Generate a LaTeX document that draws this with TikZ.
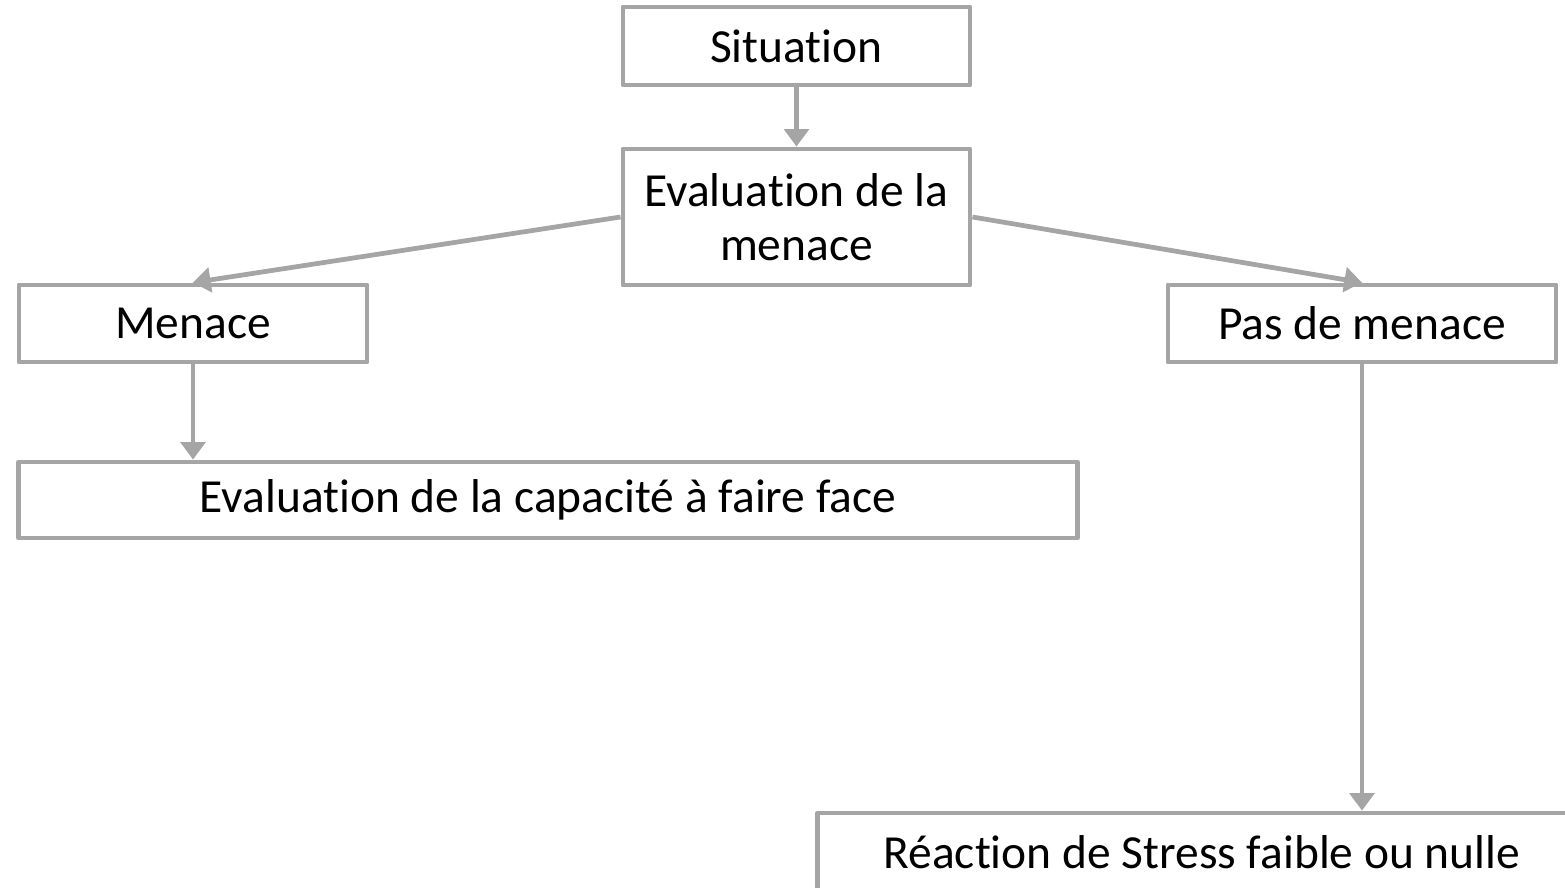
\documentclass[tikz,border=0pt]{standalone}
\usepackage{fontspec}
\setmainfont{Carlito}[Ligatures=NoCommon]
\usepackage{xcolor}
\usepackage{tikz}
\usetikzlibrary{arrows.meta}
\usetikzlibrary{calc}

\definecolor{boxgray}{HTML}{A5A5A5}

\begin{document}
\begin{tikzpicture}[x=0.01cm, y=-0.01cm,
  box/.style={draw=boxgray, line width=1.35pt, fill=white, align=center,
              inner sep=0pt, line join=round, font=\fontsize{13.5}{15.5}\selectfont},
  arr/.style={draw=boxgray, line width=1.35pt, -{Triangle[width=7pt,length=5pt]}}]

 \useasboundingbox (0,0) rectangle (1565,888);

 %top
 \node[box, minimum width=3.47cm, minimum height=0.78cm] (sit) at (796.5,46) {Situation};
 \node[box, minimum width=3.47cm, minimum height=1.36cm] (eval) at (796.5,217) {Evaluation de la\\menace};

 %level 2
 \node[box, minimum width=3.48cm, minimum height=0.77cm] (men) at (193,323.5) {Menace};
 \node[box, minimum width=3.88cm, minimum height=0.77cm] (pas) at (1362,323.5) {Pas de menace};

 %level 3
 \node[box, minimum width=10.58cm, minimum height=0.76cm] (cap) at (548,500) {Evaluation de la capacit\'e \`a faire face};
 \node[box, minimum width=7.68cm, minimum height=0.78cm] (rea) at (1202,852) {R\'eaction de Stress faible ou nulle};

 %arrows
 \draw[arr] (sit.south) -- (eval.north);
 \draw[arr] (eval.west) -- (men.north);
 \draw[arr] (eval.east) -- (pas.north);
 \draw[arr] (men.south) -- (men.south |- cap.north);
 \draw[arr] (pas.south) -- (pas.south |- rea.north);
\end{tikzpicture}
\end{document}
